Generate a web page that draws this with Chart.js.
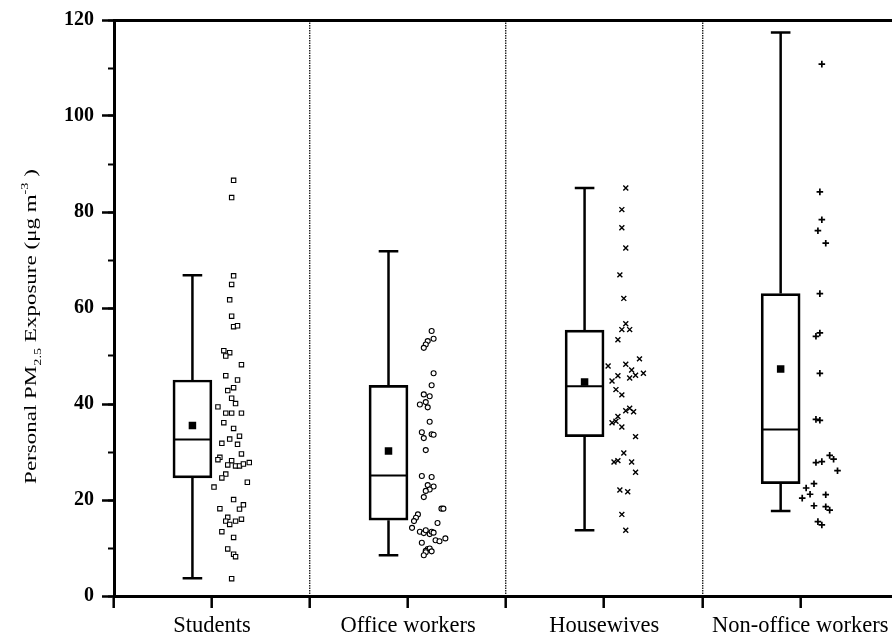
<!DOCTYPE html>
<html>
<head>
<meta charset="utf-8">
<script src="https://cdn.jsdelivr.net/npm/chart.js@4.4.1/dist/chart.umd.min.js"></script>
<style>
  html, body { margin: 0; padding: 0; background: #fff; overflow: hidden; }
  canvas { display: block; }
</style>
</head>
<body>
<!-- a little wider than the window: the right end of the plot is cut off, like in the source figure -->
<canvas id="pmChart" width="904" height="640"></canvas>
<script>
const categories = ['Students', 'Office workers', 'Housewives', 'Non-office workers'];

// box plot statistics (µg m-3)
const whiskerLow = [3.7, 8.5, 13.7, 17.7];
const q1 = [24.6, 15.8, 33.2, 23.4];
const medians = [32.6, 25.1, 43.7, 34.7];
const q3 = [45.0, 43.9, 55.4, 63.0];
const whiskerHigh = [66.8, 71.8, 85.0, 117.4];
const means = [35.5, 30.2, 44.6, 47.3];

// individual samples, with the jitter position inside the category
const studentsValues = [86.6, 83.0, 66.7, 64.9, 61.7, 58.3, 56.1, 56.3, 51.1, 50.7, 50.0, 48.2, 45.9, 45.0,
  43.4, 42.8, 41.2, 40.1, 39.4, 38.1, 38.1, 38.1, 36.1, 34.9, 33.3, 32.7, 31.8, 31.6, 29.6, 28.9, 28.4,
  28.2, 27.3, 27.1, 27.1, 27.5, 27.8, 25.4, 24.6, 23.7, 22.7, 20.1, 19.0, 18.2, 18.1, 16.4, 15.6, 14.9,
  15.6, 16.0, 13.4, 12.2, 9.8, 8.7, 8.2, 3.6];
const studentsJitter = [0.61, 0.60, 0.61, 0.60, 0.59, 0.60, 0.61, 0.63, 0.56, 0.59, 0.57, 0.65, 0.57, 0.63,
  0.61, 0.58, 0.60, 0.62, 0.53, 0.57, 0.60, 0.65, 0.56, 0.61, 0.64, 0.59, 0.55, 0.63, 0.65, 0.54, 0.53,
  0.60, 0.58, 0.62, 0.64, 0.66, 0.69, 0.57, 0.55, 0.68, 0.51, 0.61, 0.66, 0.54, 0.64, 0.58, 0.57, 0.59,
  0.62, 0.65, 0.55, 0.61, 0.58, 0.61, 0.62, 0.60];

const officeValues = [55.2, 53.6, 53.1, 52.4, 51.7, 46.4, 43.9, 42.0, 41.6, 39.9, 40.4, 39.3, 36.3, 34.1,
  32.9, 33.7, 33.6, 30.4, 25.0, 24.8, 23.1, 22.8, 22.2, 21.9, 20.6, 18.2, 18.2, 17.0, 16.3, 15.6, 15.2,
  14.2, 13.4, 13.1, 13.7, 12.9, 13.4, 13.2, 11.6, 11.4, 12.0, 11.1, 9.8, 9.9, 9.4, 9.3, 9.1, 8.5];
const officeJitter = [0.62, 0.63, 0.60, 0.59, 0.58, 0.63, 0.62, 0.58, 0.61, 0.56, 0.59, 0.60, 0.61, 0.57,
  0.58, 0.62, 0.63, 0.59, 0.57, 0.62, 0.60, 0.63, 0.61, 0.59, 0.58, 0.67, 0.68, 0.55, 0.54, 0.53, 0.65,
  0.52, 0.56, 0.58, 0.59, 0.61, 0.62, 0.63, 0.64, 0.66, 0.69, 0.57, 0.60, 0.61, 0.59, 0.62, 0.59, 0.58];

const housewivesValues = [85.0, 80.5, 76.7, 72.5, 66.9, 62.0, 56.7, 55.5, 55.5, 53.4, 49.4, 47.9, 48.3,
  47.1, 45.9, 45.4, 46.0, 46.4, 44.8, 43.0, 41.9, 38.6, 39.1, 38.4, 36.1, 36.4, 37.4, 35.2, 33.2, 29.8,
  27.9, 28.2, 27.9, 25.8, 22.1, 21.7, 17.0, 13.7];
const housewivesJitter = [0.61, 0.59, 0.59, 0.61, 0.58, 0.60, 0.61, 0.59, 0.63, 0.57, 0.68, 0.52, 0.61,
  0.64, 0.57, 0.63, 0.66, 0.70, 0.54, 0.56, 0.59, 0.61, 0.63, 0.65, 0.54, 0.56, 0.57, 0.59, 0.66, 0.60,
  0.55, 0.57, 0.64, 0.66, 0.58, 0.62, 0.59, 0.61];

const nonOfficeValues = [110.8, 84.2, 78.4, 76.1, 73.5, 63.0, 54.8, 54.1, 46.4, 36.8, 36.6, 27.8, 28.0,
  29.3, 28.5, 26.1, 23.4, 22.5, 21.2, 20.4, 21.1, 18.8, 18.6, 17.9, 15.5, 14.8];
const nonOfficeJitter = [0.61, 0.60, 0.61, 0.59, 0.63, 0.60, 0.60, 0.58, 0.60, 0.58, 0.60, 0.58, 0.61,
  0.65, 0.67, 0.69, 0.57, 0.53, 0.55, 0.51, 0.63, 0.57, 0.63, 0.65, 0.59, 0.61];

const FONT = '"Liberation Serif", "Times New Roman", serif';
const BOX_AT = 0.4;      // box centre inside a category
const CAP = 0.05;        // half width of whisker caps
const HALF_BOX = 0.097;  // half width of the median line

Chart.defaults.font.family = FONT;
Chart.defaults.color = '#000';

function gap(x) { return { x: x, y: null }; }

const whiskerData = [];
const medianData = [];
categories.forEach((c, i) => {
  const cx = i + BOX_AT;
  whiskerData.push(
    { x: cx - CAP, y: whiskerHigh[i] }, { x: cx + CAP, y: whiskerHigh[i] }, gap(cx),
    { x: cx, y: whiskerHigh[i] }, { x: cx, y: q3[i] }, gap(cx),
    { x: cx, y: q1[i] }, { x: cx, y: whiskerLow[i] }, gap(cx),
    { x: cx - CAP, y: whiskerLow[i] }, { x: cx + CAP, y: whiskerLow[i] }, gap(cx)
  );
  medianData.push({ x: cx - HALF_BOX, y: medians[i] }, { x: cx + HALF_BOX, y: medians[i] }, gap(cx));
});

function samples(values, jitter, i) {
  return values.map((v, k) => ({ x: i + jitter[k], y: v }));
}

// rotated y title with sub/superscripts
const yTitle = {
  id: 'yTitle',
  afterDraw(chart) {
    const ctx = chart.ctx;
    const size = 23;
    const parts = [
      { t: 'Personal PM', s: 1, dy: 0 },
      { t: '2.5', s: 0.62, dy: 0.28 },
      { t: ' Exposure (\u03bcg m', s: 1, dy: 0 },
      { t: '-3', s: 0.62, dy: -0.45 },
      { t: ' )', s: 1, dy: 0 }
    ];
    ctx.save();
    ctx.fillStyle = '#000';
    ctx.textAlign = 'left';
    ctx.textBaseline = 'alphabetic';
    let total = 0;
    parts.forEach(p => {
      ctx.font = (size * p.s) + 'px ' + FONT;
      p.w = ctx.measureText(p.t).width;
      total += p.w;
    });
    ctx.translate(36, 326.5);
    ctx.rotate(-Math.PI / 2);
    ctx.scale(1, 0.77);
    let x = -total / 2;
    parts.forEach(p => {
      ctx.font = (size * p.s) + 'px ' + FONT;
      ctx.fillText(p.t, x, p.dy * size);
      x += p.w;
    });
    ctx.restore();
  }
};

const ctx = document.getElementById('pmChart').getContext('2d');

const pmChart = new Chart(ctx, {
  type: 'scatter',
  data: {
    datasets: [
      {
        type: 'bar',
        data: categories.map((c, i) => ({ x: i + BOX_AT, y: [q1[i], q3[i]] })),
        backgroundColor: '#fff',
        borderColor: '#000',
        borderWidth: 2.7,
        borderSkipped: false,
        barThickness: 39,
        order: 4
      },
      {
        data: whiskerData,
        showLine: true,
        borderColor: '#000',
        borderWidth: 2.5,
        pointRadius: 0,
        order: 3
      },
      {
        data: medianData,
        showLine: true,
        borderColor: '#000',
        borderWidth: 2,
        pointRadius: 0,
        order: 2
      },
      {
        data: categories.map((c, i) => ({ x: i + BOX_AT, y: means[i] })),
        pointStyle: 'rect',
        pointRadius: 5.3,
        backgroundColor: '#000',
        borderColor: '#000',
        borderWidth: 0,
        order: 1
      },
      {
        data: samples(studentsValues, studentsJitter, 0),
        pointStyle: 'rect',
        pointRadius: 3.1,
        backgroundColor: '#fff',
        borderColor: '#000',
        borderWidth: 1.1,
        order: 1
      },
      {
        data: samples(officeValues, officeJitter, 1),
        pointStyle: 'circle',
        pointRadius: 2.5,
        backgroundColor: '#fff',
        borderColor: '#000',
        borderWidth: 1.1,
        order: 1
      },
      {
        data: samples(housewivesValues, housewivesJitter, 2),
        pointStyle: 'crossRot',
        pointRadius: 3.5,
        borderColor: '#000',
        borderWidth: 1.4,
        order: 1
      },
      {
        data: samples(nonOfficeValues, nonOfficeJitter, 3),
        pointStyle: 'cross',
        pointRadius: 3.3,
        borderColor: '#000',
        borderWidth: 1.7,
        order: 1
      }
    ]
  },
  options: {
    responsive: false,
    devicePixelRatio: 1,
    animation: false,
    layout: { padding: { top: 18, right: 0, bottom: 0, left: 0 } },
    plugins: {
      legend: { display: false },
      tooltip: { enabled: false }
    },
    scales: {
      x: {
        type: 'linear',
        min: 0,
        max: 4,
        offset: false,
        grid: {
          offset: false,
          color: c => (c.tick && [1, 2, 3].includes(c.tick.value)) ? '#222' : 'rgba(0,0,0,0)',
          lineWidth: 1.4,
          tickColor: '#000',
          tickWidth: 2.5,
          tickLength: 12
        },
        border: { color: '#000', width: 3, dash: [1.5, 1] },
        ticks: {
          stepSize: 0.5,
          includeBounds: false,
          autoSkip: false,
          maxRotation: 0,
          minRotation: 0,
          padding: 5,
          color: '#000',
          font: { size: 22.5 },
          callback: v => (v % 1 === 0.5) ? categories[Math.floor(v)] : ''
        },
        afterFit: s => { s.height = 44; }
      },
      y: {
        type: 'linear',
        position: 'left',
        weight: 1,
        min: 0,
        max: 120,
        grid: {
          color: c => (c.tick && c.tick.value === 120) ? '#000' : 'rgba(0,0,0,0)',
          lineWidth: 3,
          tickColor: '#000',
          tickWidth: 2.5,
          tickLength: 12
        },
        border: { color: '#000', width: 3 },
        ticks: {
          stepSize: 20,
          padding: 8,
          color: '#000',
          font: { size: 20, weight: 'bold' }
        },
        afterFit: s => { s.width = 114; }
      },
      yMinor: {
        type: 'linear',
        axis: 'y',
        position: 'left',
        weight: 0,
        min: 0,
        max: 120,
        grid: {
          drawOnChartArea: false,
          color: 'rgba(0,0,0,0)',
          tickColor: '#000',
          tickWidth: 2,
          tickLength: 6
        },
        border: { display: false },
        ticks: { stepSize: 10, maxTicksLimit: 20, display: false },
        afterFit: s => { s.width = 0; }
      }
    }
  },
  plugins: [yTitle]
});
</script>
</body>
</html>
